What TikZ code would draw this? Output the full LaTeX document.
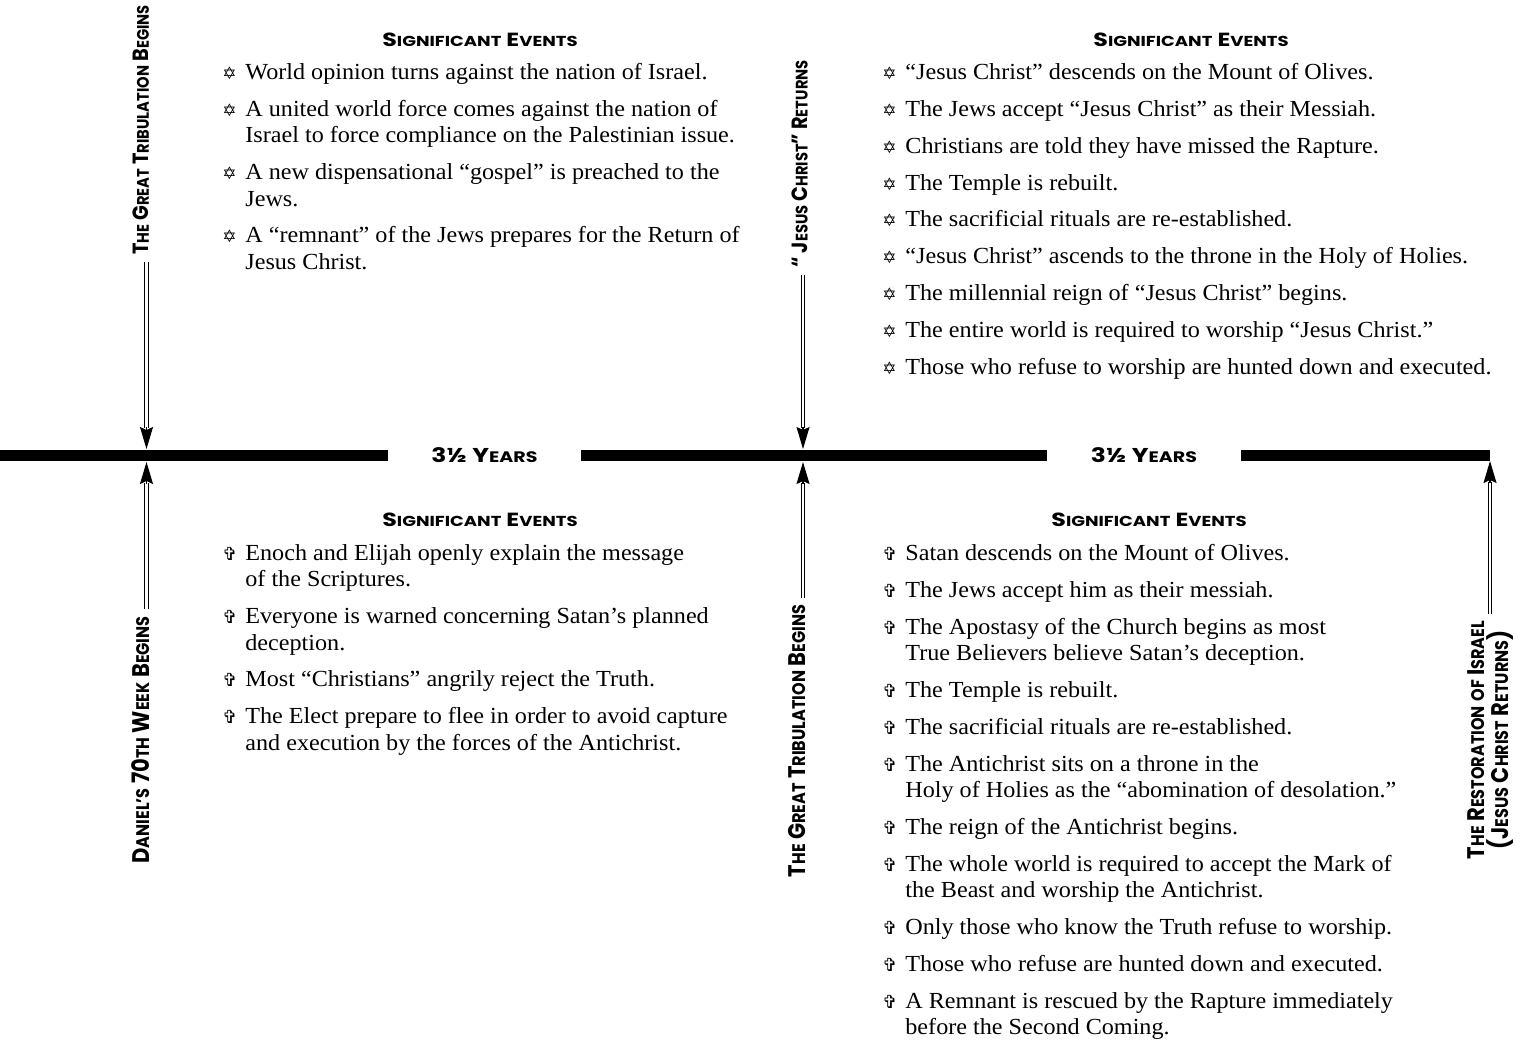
\documentclass[tikz,border=0pt]{standalone}
\usepackage{fontspec}
\setmainfont{Liberation Serif}[FakeStretch=1.05]
\newfontfamily\hdfont{Poppins}[FakeStretch=1.25]
\newfontfamily\vlfont{Poppins}[FakeStretch=0.88]
\newfontfamily\symfont{DejaVu Sans}
\usetikzlibrary{arrows.meta,calc}

\makeatletter
\newcommand\capw[1]{{\fontsize{\strip@pt\dimexpr0.76\dimexpr\f@size pt\relax\relax}{0}\selectfont#1}}
\makeatother
\newcommand\starb{\makebox[11.5pt][l]{\symfont\fontsize{8.5}{8.5}\selectfont ✡}}
\newcommand\crossb{\makebox[11.5pt][l]{\symfont\fontsize{9}{9}\selectfont ✞}}
\newcommand\ind{\hspace*{11.5pt}}
\newcommand\ig{5.15pt}

\tikzset{
  tline/.style={line width=5.5pt},
  yrs/.style={minimum width=96.5pt,inner sep=0pt,font=\hdfont\bfseries\fontsize{10}{10}\selectfont},
  evhead/.style={font=\hdfont\bfseries\fontsize{9.5}{9.5}\selectfont},
  evlist/.style={align=left,inner sep=0pt,anchor=north west,font=\fontsize{11.5}{13.25}\selectfont},
  vlabel/.style={rotate=90,align=center,font=\vlfont\bfseries\fontsize{11}{10.5}\selectfont},
  vlabel big/.style={vlabel,font=\vlfont\bfseries\fontsize{12}{12}\selectfont},
  dbl/.style={double,double distance=1.1pt,line width=0.65pt},
  tip/.style={line width=0.6pt,-{Stealth[length=11pt,width=6.5pt,inset=1.5pt]}},
}

\begin{document}
\begin{tikzpicture}[x=0.5pt,y=-0.5pt]
  \useasboundingbox (0,0) rectangle (1529,1044);
  % time line
  \coordinate (tL) at (0,455.5);
  \coordinate (tR) at (1490,455.5);
  \node[yrs] (yrA) at (484.5,455.5) {3½ Y\capw{EARS}};
  \node[yrs] (yrB) at (1144,455.5) {3½ Y\capw{EARS}};
  \draw[tline] (tL) -- (yrA) (yrA) -- (yrB) (yrB) -- (tR);
  \coordinate (aUp) at (146.5,449);
  \coordinate (aDn) at (146.5,462);
  \coordinate (bUp) at (803,449);
  \coordinate (bDn) at (803,462);
  \coordinate (cDn) at (1490,461);

  % milestones
  \node[vlabel] (lbTA) at (141,130) {T\capw{HE} G\capw{REAT} T\capw{RIBULATION} B\capw{EGINS}};
  \node[vlabel] (lbTB) at (800,164) {“ J\capw{ESUS} C\capw{HRIST}” R\capw{ETURNS}};
  \node[vlabel big] (lbBA) at (141,740) {D\capw{ANIEL’S} 70\capw{TH} W\capw{EEK} B\capw{EGINS}};
  \node[vlabel big] (lbBB) at (797,741) {T\capw{HE} G\capw{REAT} T\capw{RIBULATION} B\capw{EGINS}};
  \node[vlabel big] (lbBC) at (1491,740) {T\capw{HE} R\capw{ESTORATION} \capw{OF} I\capw{SRAEL}\\(J\capw{ESUS} C\capw{HRIST} R\capw{ETURNS})};

  \draw[dbl] (lbTA.west -| aUp) -- ($(aUp)+(0,-21)$);
  \draw[tip] ($(aUp)+(0,-22)$) -- (aUp);
  \draw[dbl] (lbTB.west -| bUp) -- ($(bUp)+(0,-21)$);
  \draw[tip] ($(bUp)+(0,-22)$) -- (bUp);
  \draw[dbl] (lbBA.east -| aDn) -- ($(aDn)+(0,21)$);
  \draw[tip] ($(aDn)+(0,22)$) -- (aDn);
  \draw[dbl] (lbBB.east -| bDn) -- ($(bDn)+(0,21)$);
  \draw[tip] ($(bDn)+(0,22)$) -- (bDn);
  \draw[dbl] (lbBC.east -| cDn) -- ($(cDn)+(0,21)$);
  \draw[tip] ($(cDn)+(0,22)$) -- (cDn);

  % events
  \node[evhead] (hdTL) at (480,40) {S\capw{IGNIFICANT} E\capw{VENTS}};
  \node[evhead] (hdTR) at (1191,40) {S\capw{IGNIFICANT} E\capw{VENTS}};
  \node[evhead] (hdBL) at (480,520) {S\capw{IGNIFICANT} E\capw{VENTS}};
  \node[evhead] (hdBR) at (1149,520) {S\capw{IGNIFICANT} E\capw{VENTS}};

  \node[evlist] (evTL) at (222,63) {%
    \starb World opinion turns against the nation of Israel.\\[\ig]
    \starb A united world force comes against the nation of\\
    \ind Israel to force compliance on the Palestinian issue.\\[\ig]
    \starb A new dispensational “gospel” is preached to the\\
    \ind Jews.\\[\ig]
    \starb A “remnant” of the Jews prepares for the Return of\\
    \ind Jesus Christ.};
  \node[evlist] (evTR) at (882,63) {%
    \starb “Jesus Christ” descends on the Mount of Olives.\\[\ig]
    \starb The Jews accept “Jesus Christ” as their Messiah.\\[\ig]
    \starb Christians are told they have missed the Rapture.\\[\ig]
    \starb The Temple is rebuilt.\\[\ig]
    \starb The sacrificial rituals are re-established.\\[\ig]
    \starb “Jesus Christ” ascends to the throne in the Holy of Holies.\\[\ig]
    \starb The millennial reign of “Jesus Christ” begins.\\[\ig]
    \starb The entire world is required to worship “Jesus Christ.”\\[\ig]
    \starb Those who refuse to worship are hunted down and executed.};
  \node[evlist] (evBL) at (222,544) {%
    \crossb Enoch and Elijah openly explain the message\\
    \ind of the Scriptures.\\[\ig]
    \crossb Everyone is warned concerning Satan’s planned\\
    \ind deception.\\[\ig]
    \crossb Most “Christians” angrily reject the Truth.\\[\ig]
    \crossb The Elect prepare to flee in order to avoid capture\\
    \ind and execution by the forces of the Antichrist.};
  \node[evlist] (evBR) at (882,544) {%
    \crossb Satan descends on the Mount of Olives.\\[\ig]
    \crossb The Jews accept him as their messiah.\\[\ig]
    \crossb The Apostasy of the Church begins as most\\
    \ind True Believers believe Satan’s deception.\\[\ig]
    \crossb The Temple is rebuilt.\\[\ig]
    \crossb The sacrificial rituals are re-established.\\[\ig]
    \crossb The Antichrist sits on a throne in the\\
    \ind Holy of Holies as the “abomination of desolation.”\\[\ig]
    \crossb The reign of the Antichrist begins.\\[\ig]
    \crossb The whole world is required to accept the Mark of\\
    \ind the Beast and worship the Antichrist.\\[\ig]
    \crossb Only those who know the Truth refuse to worship.\\[\ig]
    \crossb Those who refuse are hunted down and executed.\\[\ig]
    \crossb A Remnant is rescued by the Rapture immediately\\
    \ind before the Second Coming.};
\end{tikzpicture}
\end{document}
